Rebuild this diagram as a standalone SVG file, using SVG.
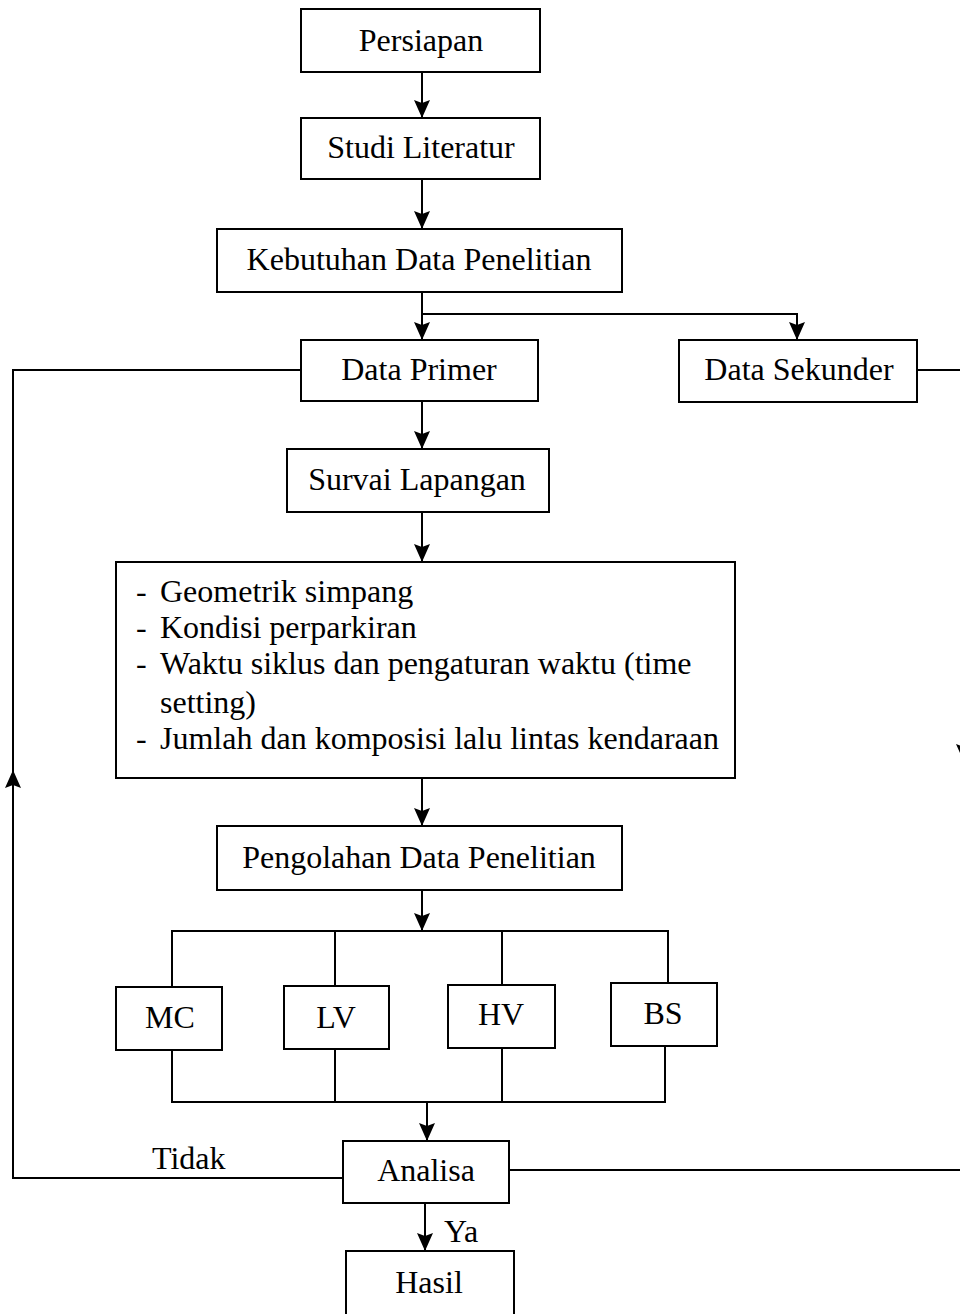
<svg xmlns="http://www.w3.org/2000/svg" width="960" height="1314" viewBox="0 0 960 1314">
<style>
.box{fill:#fff;stroke:#000;stroke-width:2}
.t{font-family:"Liberation Serif","Times New Roman",serif;font-size:32px;fill:#000;text-anchor:middle}
.l{font-family:"Liberation Serif","Times New Roman",serif;font-size:32px;fill:#000}
.c{fill:none;stroke:#000;stroke-width:2}
</style>
<defs>
<marker id="ah" viewBox="0 -9 18 18" refX="18" refY="0" markerWidth="18" markerHeight="18" markerUnits="userSpaceOnUse" orient="auto">
<path d="M0,-8 L18,0 L0,8 L3,0 Z" fill="#000"/>
</marker>
</defs>
<g id="connectors">
<path class="c" d="M422,72 V118" marker-end="url(#ah)"/>
<path class="c" d="M422,179 V229" marker-end="url(#ah)"/>
<path class="c" d="M422,292 V340" marker-end="url(#ah)"/>
<path class="c" d="M422,314 H797 V340" marker-end="url(#ah)"/>
<path class="c" d="M422,401 V449" marker-end="url(#ah)"/>
<path class="c" d="M422,512 V562" marker-end="url(#ah)"/>
<path class="c" d="M422,778 V826" marker-end="url(#ah)"/>
<path class="c" d="M422,890 V931" marker-end="url(#ah)"/>
<path class="c" d="M172,987 V931 H668 V983"/>
<path class="c" d="M335,931 V986"/>
<path class="c" d="M502,931 V985"/>
<path class="c" d="M172,1050 V1102 H665 V1046"/>
<path class="c" d="M335,1049 V1102"/>
<path class="c" d="M502,1048 V1102"/>
<path class="c" d="M427,1102 V1141" marker-end="url(#ah)"/>
<path class="c" d="M425,1203 V1251" marker-end="url(#ah)"/>
<path class="c" d="M343,1178 H13 V770" marker-end="url(#ah)"/>
<path class="c" d="M13,770 V370 H301"/>
<path class="c" d="M917,370 H964 V762" marker-end="url(#ah)"/>
<path class="c" d="M964,762 V1170 H509"/>
<text class="l" x="152" y="1169">Tidak</text>
<text class="l" x="444" y="1242">Ya</text>
</g>
<g id="persiapan"><rect class="box" x="301" y="9" width="239" height="63"/><text class="t" x="421" y="51">Persiapan</text></g>
<g id="studi-literatur"><rect class="box" x="301" y="118" width="239" height="61"/><text class="t" x="421" y="158">Studi Literatur</text></g>
<g id="kebutuhan-data"><rect class="box" x="217" y="229" width="405" height="63"/><text class="t" x="419" y="270">Kebutuhan Data Penelitian</text></g>
<g id="data-primer"><rect class="box" x="301" y="340" width="237" height="61"/><text class="t" x="419" y="380">Data Primer</text></g>
<g id="data-sekunder"><rect class="box" x="679" y="340" width="238" height="62"/><text class="t" x="799" y="380">Data Sekunder</text></g>
<g id="survai-lapangan"><rect class="box" x="287" y="449" width="262" height="63"/><text class="t" x="417" y="490">Survai Lapangan</text></g>
<g id="data-list"><rect class="box" x="116" y="562" width="619" height="216"/>
<text class="l" x="136" y="602">-</text><text class="l" x="160" y="602">Geometrik simpang</text>
<text class="l" x="136" y="638">-</text><text class="l" x="160" y="638">Kondisi perparkiran</text>
<text class="l" x="136" y="674">-</text><text class="l" x="160" y="674">Waktu siklus dan pengaturan waktu (time</text>
<text class="l" x="160" y="713">setting)</text>
<text class="l" x="136" y="749">-</text><text class="l" x="160" y="749">Jumlah dan komposisi lalu lintas kendaraan</text>
</g>
<g id="pengolahan"><rect class="box" x="217" y="826" width="405" height="64"/><text class="t" x="419" y="868">Pengolahan Data Penelitian</text></g>
<g id="mc"><rect class="box" x="116" y="987" width="106" height="63"/><text class="t" x="170" y="1028">MC</text></g>
<g id="lv"><rect class="box" x="284" y="986" width="105" height="63"/><text class="t" x="336" y="1028">LV</text></g>
<g id="hv"><rect class="box" x="448" y="985" width="107" height="63"/><text class="t" x="501" y="1025">HV</text></g>
<g id="bs"><rect class="box" x="611" y="983" width="106" height="63"/><text class="t" x="663" y="1024">BS</text></g>
<g id="analisa"><rect class="box" x="343" y="1141" width="166" height="62"/><text class="t" x="426" y="1181">Analisa</text></g>
<g id="hasil"><rect class="box" x="346" y="1251" width="168" height="70"/><text class="t" x="429" y="1293">Hasil</text></g>
</svg>
